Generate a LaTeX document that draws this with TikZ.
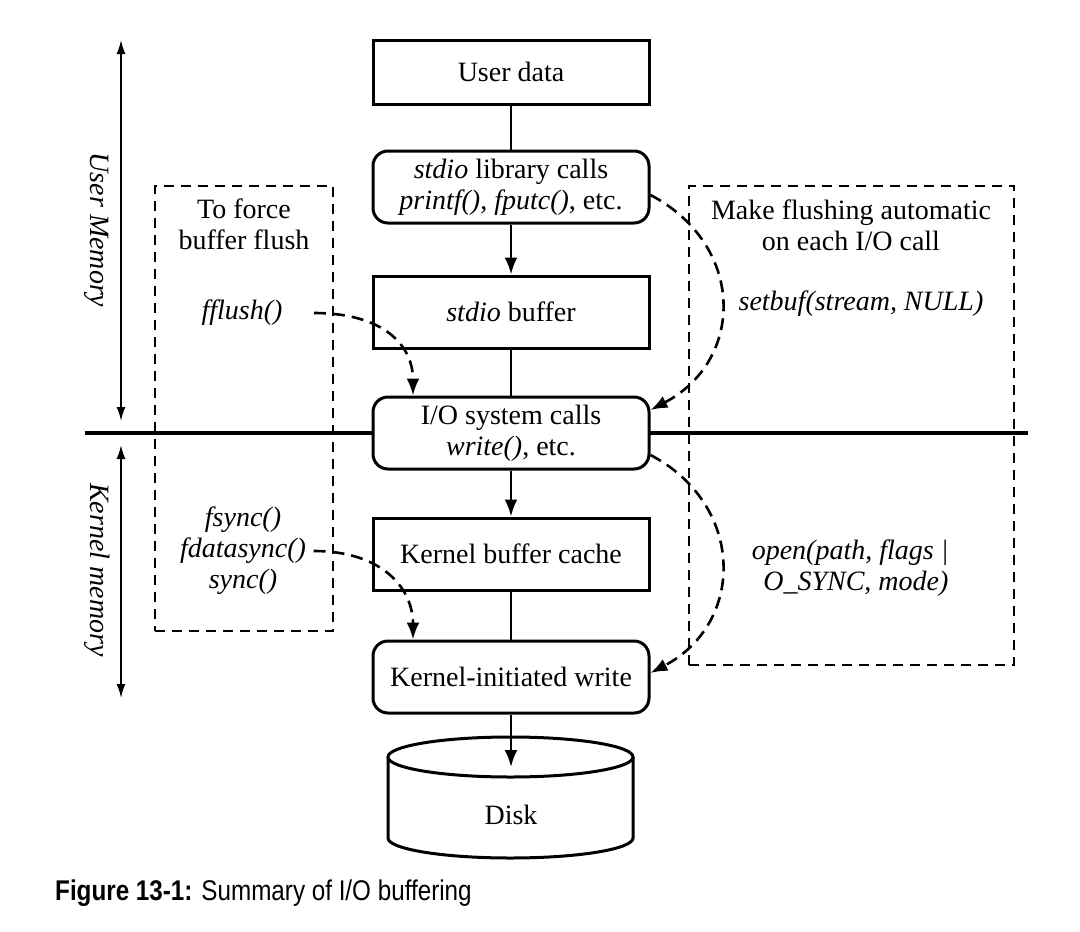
\documentclass[tikz,border=0pt]{standalone}
\usepackage{fontspec}
\setmainfont{Liberation Serif}
\newfontfamily\capfont{Liberation Sans}
\usetikzlibrary{arrows.meta}
\begin{document}
\begin{tikzpicture}[x=1pt,y=-1pt,
  every node/.style={font=\fontsize{28}{31}\selectfont},
  solidbox/.style={draw, line width=3pt, minimum width=276pt, minimum height=72pt, fill=white, align=center, inner sep=0pt},
  roundbox/.style={solidbox, rounded corners=15pt},
  flowline/.style={line width=2.6pt},
  flowarr/.style={line width=2.6pt, -{Latex[length=17pt,width=13pt]}},
  dasharr/.style={line width=2.6pt, dash pattern=on 12pt off 7pt, -{Latex[length=17pt,width=13pt]}},
  dashbox/.style={draw, line width=1.6pt, dash pattern=on 10pt off 7pt, inner sep=0pt},
  txt/.style={align=center},
  itxt/.style={align=center, font=\fontsize{28}{31}\selectfont\itshape},
  memarr/.style={line width=1.8pt, {Latex[length=14pt,width=9pt]}-{Latex[length=14pt,width=9pt]}},
]
\useasboundingbox (0,0) rectangle (1080,932);

% dashed grouping boxes
\node[dashbox, minimum width=178pt, minimum height=445pt] (lbox) at (244,408.5) {};
\node[dashbox, minimum width=325pt, minimum height=479pt] (rbox) at (851.5,425.5) {};

% memory divider
\coordinate (hl) at (85,433);
\coordinate (hr) at (1028,433);
\draw[line width=3.5pt] (hl) -- (hr);

% main column
\node[solidbox, minimum height=64pt] (ud) at (511,72) {User data};
\node[roundbox] (lib) at (511,187) {\textit{stdio} library calls\\\textit{printf()}, \textit{fputc()}, etc.};
\node[solidbox] (buf) at (511,312) {\textit{stdio} buffer};
\node[roundbox] (sys) at (511,433) {I/O system calls\\\textit{write()}, etc.};
\node[solidbox] (kbc) at (511,554) {Kernel buffer cache};
\node[roundbox] (kiw) at (511,677) {Kernel-initiated write};

% disk
\draw[line width=3pt, fill=white] (388,757) -- (388,838) arc[start angle=180, end angle=360, x radius=122.5pt, y radius=20pt] -- (633,757);
\draw[line width=3pt, fill=white] (510.5,757) ellipse [x radius=122.5pt, y radius=20pt];
\node (disk) at (511,815) {Disk};
\coordinate (dtop) at (511,767);

% main connectors
\draw[flowline] (ud.south) -- (lib.north);
\draw[flowarr] (lib.south) -- (buf.north);
\draw[flowline] (buf.south) -- (sys.north);
\draw[flowarr] (sys.south) -- (kbc.north);
\draw[flowline] (kbc.south) -- (kiw.north);
\draw[flowarr] (kiw.south) -- (dtop);

% memory arrows and labels
\coordinate (um1) at (121,40);
\coordinate (um2) at (121,421);
\coordinate (km1) at (121,445);
\coordinate (km2) at (121,698);
\draw[memarr] (um1) -- (um2);
\draw[memarr] (km1) -- (km2);
\node[itxt, rotate=-90] (uml) at (97,230) {User Memory};
\node[itxt, rotate=-90] (kml) at (97,570) {Kernel memory};

% left box texts
\node[txt] (force) at (244,224) {To force\\buffer flush};
\node[itxt] (ff) at (242,313) {fflush()};
\node[itxt] (fs) at (243,551) {fsync()\\fdatasync()\\sync()};

% right box texts
\node[txt] (auto) at (851,225) {Make flushing automatic\\on each I/O call};
\node[itxt] (sb) at (861,304) {setbuf(stream, NULL)};
\node[itxt, align=right, anchor=east] (op) at (952,568) {open(path, flags |\\O\_SYNC, mode)};

% dashed connectors
\draw[dasharr] ([xshift=28pt]ff.east) .. controls +(70,0) and +(0,-50) .. ([xshift=-98pt]sys.north);
\draw[dasharr] ([xshift=4pt]fs.east) .. controls +(70,0) and +(0,-50) .. ([xshift=-98pt]kiw.north);
\draw[dasharr] ([yshift=-8pt]lib.east) .. controls +(95,50) and +(95,-50) .. ([yshift=23pt]sys.east);
\draw[dasharr] ([yshift=-22pt]sys.east) .. controls +(95,50) and +(95,-50) .. ([yshift=4pt]kiw.east);

% caption
\node[anchor=base west, inner sep=0pt] (cap) at (55,900) {\scalebox{0.85}[1]{\capfont\fontsize{28.5}{32}\selectfont\textbf{Figure 13-1:} Summary of I/O buffering}};
\end{tikzpicture}
\end{document}
